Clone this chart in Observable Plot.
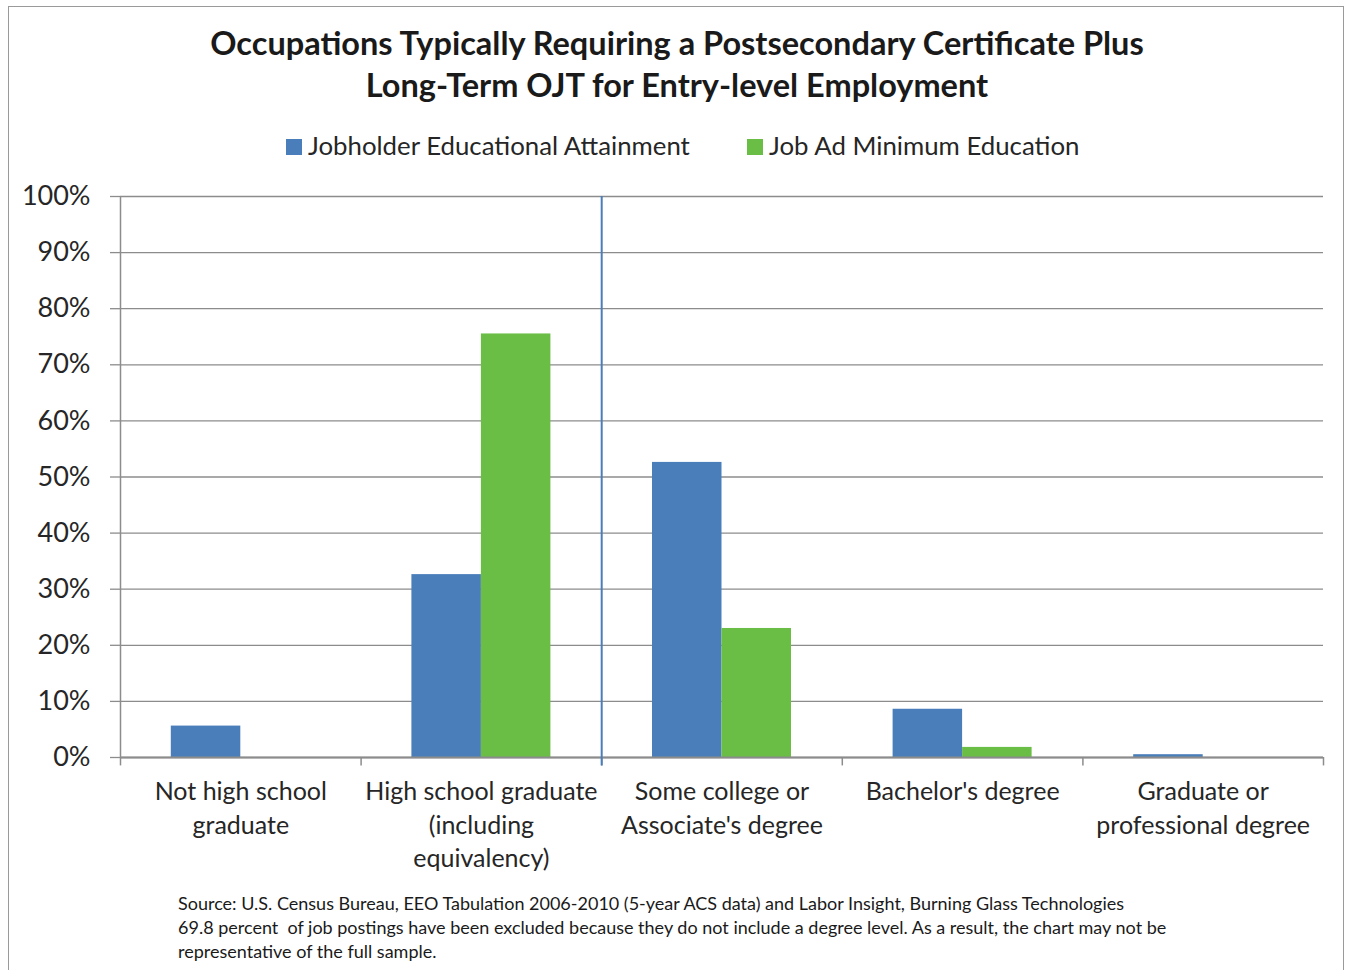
<!DOCTYPE html>
<html>
<head>
<meta charset="utf-8">
<script src="https://cdn.jsdelivr.net/npm/d3@7"></script>
<script src="https://cdn.jsdelivr.net/npm/@observablehq/plot@0.6"></script>
<style>
  html, body { margin: 0; padding: 0; background: #fff; }
  body { width: 1345px; height: 970px; position: relative; overflow: hidden; font-family: Lato, "Open Sans", sans-serif; color: #262626; }
  #frame { position: absolute; left: 8px; top: 6px; width: 1336px; height: 1000px; border: 1.5px solid #9a9a9a; border-bottom: none; box-sizing: border-box; z-index: 5; pointer-events: none; }
  #title { position: absolute; left: 8px; width: 1338px; top: 22px; text-align: center; font-weight: bold; font-size: 32.5px; line-height: 42px; color: #1a1a1a; }
  #legend { position: absolute; top: 130px; left: 0; width: 1345px; height: 30px; font-size: 25.8px; line-height: 30px; color: #262626; }
  .lg { position: absolute; top: 0; white-space: nowrap; }
  .sw { display: inline-block; width: 16px; height: 16px; vertical-align: 0px; margin-right: 6px; }
  #chart { position: absolute; left: 0; top: 170px; }
  #caption { position: absolute; left: 178px; top: 891px; font-size: 18px; line-height: 24px; color: #1a1a1a; white-space: nowrap; }
</style>
</head>
<body>
<div id="title">Occupations Typically Requiring a Postsecondary Certificate Plus<br>Long-Term OJT for Entry-level Employment</div>
<div id="legend"></div>
<div id="chart"></div>
<div id="caption">Source: U.S. Census Bureau, EEO Tabulation 2006-2010 (5-year ACS data) and Labor Insight, Burning Glass Technologies<br>69.8 percent&nbsp; of job postings have been excluded because they do not include a degree level. As a result, the chart may not be<br>representative of the full sample.</div>
<div id="frame"></div>
<script>
// ---- data ----
const categories = [
  "Not high school\ngraduate",
  "High school graduate\n(including\nequivalency)",
  "Some college or\nAssociate's degree",
  "Bachelor's degree",
  "Graduate or\nprofessional degree"
];
const seriesNames = ["Jobholder Educational Attainment", "Job Ad Minimum Education"];
const jobholder = [5.6, 32.6, 52.6, 8.6, 0.5];
const jobAd = [0, 75.5, 23.0, 1.8, 0];
const yTicks = [0, 10, 20, 30, 40, 50, 60, 70, 80, 90, 100];
const colors = ["#4a7ebb", "#6abd45"];

// ---- legend ----
const legend = document.getElementById("legend");
const legendX = [286, 747];
seriesNames.forEach((name, i) => {
  const d = document.createElement("div");
  d.className = "lg";
  d.style.left = legendX[i] + "px";
  d.innerHTML = `<span class="sw" style="background:${colors[i]}"></span>${name}`;
  legend.appendChild(d);
});

// ---- layout ----
const W = 1345, H = 710, mL = 120, mR = 22, mT = 26, mB = 123;
const step = (W - mL - mR) / categories.length;
const barW = 69.5;
const gap = (step - 2 * barW) / 2;

const rows = [];
categories.forEach((c, i) => {
  rows.push({cat: c, series: seriesNames[0], value: jobholder[i]});
  rows.push({cat: c, series: seriesNames[1], value: jobAd[i]});
});

const chart = Plot.plot({
  width: W, height: H,
  marginLeft: mL, marginRight: mR, marginTop: mT, marginBottom: mB,
  style: {fontFamily: "Lato, 'Open Sans', sans-serif", color: "#262626", background: "transparent"},
  x: {type: "band", domain: categories, padding: 0, round: false, label: null},
  y: {domain: [0, 100], label: null},
  marks: [
    Plot.gridY(yTicks, {stroke: "#8c8c8c", strokeOpacity: 1, strokeWidth: 1.3}),
    Plot.barY(rows.filter(d => d.series === seriesNames[0]), {x: "cat", y: "value", fill: colors[0], insetLeft: gap, insetRight: gap + barW}),
    Plot.barY(rows.filter(d => d.series === seriesNames[1]), {x: "cat", y: "value", fill: colors[1], insetLeft: gap + barW, insetRight: gap}),
    Plot.ruleY([0], {stroke: "#8c8c8c", strokeWidth: 2}),
    Plot.ruleX(categories, {dx: -step / 2, y1: 0, y2: -1.5, stroke: "#8c8c8c", strokeWidth: 1.5}),
    Plot.ruleX([categories[categories.length - 1]], {dx: step / 2, y1: 0, y2: -1.5, stroke: "#8c8c8c", strokeWidth: 1.5}),
    Plot.ruleX([categories[0]], {dx: -step / 2, y1: 0, y2: 100, stroke: "#8c8c8c", strokeWidth: 1.5}),
    Plot.ruleX([categories[2]], {dx: -step / 2, y1: -1.5, y2: 100, stroke: colors[0], strokeWidth: 2}),
    Plot.axisY(yTicks, {tickSize: 10, tickPadding: 20, tickFormat: d => d + "%", fontSize: 27, stroke: "#8c8c8c", strokeWidth: 1.3, fill: "#262626"}),
    Plot.axisX({tickSize: 0, tickPadding: 19, fontSize: 25, lineHeight: 1.34, fill: "#262626", label: null})
  ]
});
document.getElementById("chart").appendChild(chart);
</script>
</body>
</html>
